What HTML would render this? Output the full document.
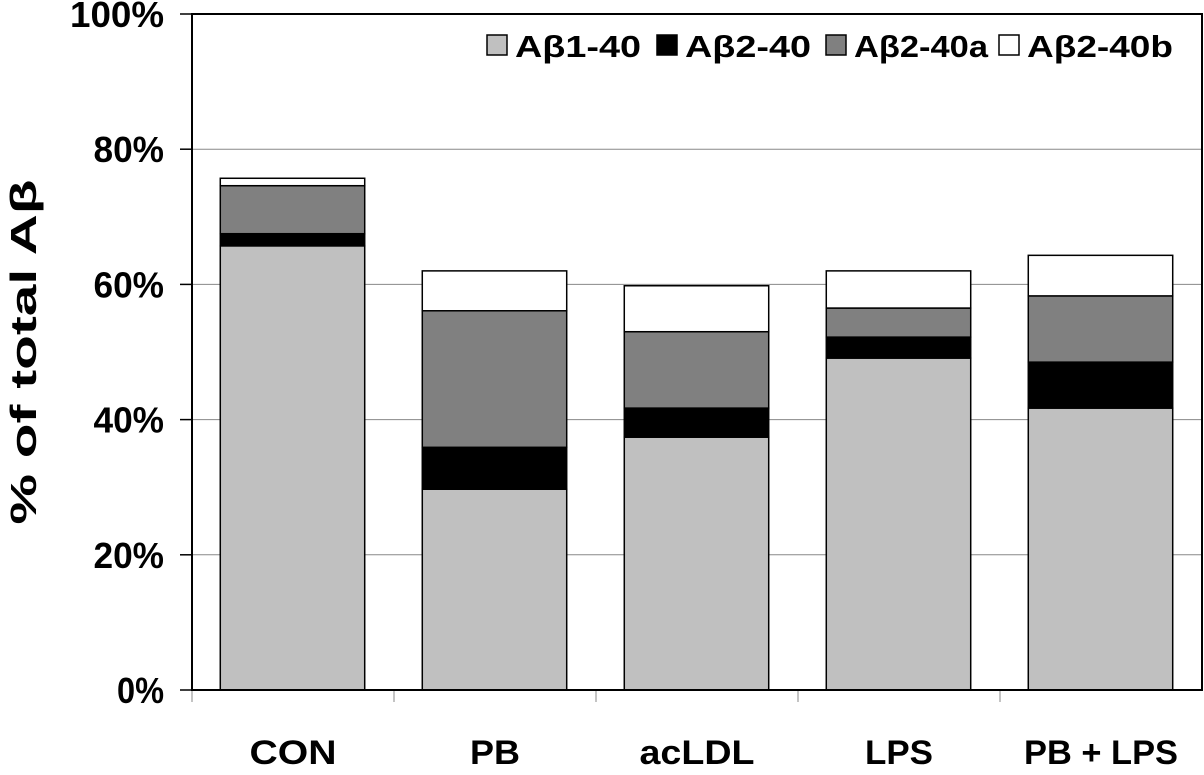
<!DOCTYPE html>
<html><head><meta charset="utf-8"><style>
body{margin:0;background:#fff;}
svg text{font-family:"Liberation Sans",Arial,sans-serif;font-weight:bold;fill:#000;}
</style></head><body>
<svg id="chart" width="1204" height="770">
<g id="grid"></g><g id="bars"></g><g id="axes"></g><g id="legend"></g>
</svg>
<script>
const categories=["CON","PB","acLDL","LPS","PB + LPS"];
const seriesNames=["Aβ1-40","Aβ2-40","Aβ2-40a","Aβ2-40b"];
const s1=[65.7,29.7,37.4,49.1,41.7];
const s2=[1.8,6.2,4.3,3.1,6.8];
const s3=[7.1,20.2,11.3,4.3,9.8];
const s4=[1.1,5.9,6.8,5.5,6.0];
const yTicks=[0,20,40,60,80,100];
const yTickLabels=["0%","20%","40%","60%","80%","100%"];
const series=[s1,s2,s3,s4];
const colors=["#c0c0c0","#000","#808080","#fff"];
const L=192,R=1202,T=14,B=690;
const ns="http://www.w3.org/2000/svg";
function y(v){return B-(v/100)*(B-T);}
const bw=(R-L)/categories.length;
function x(i){return L+bw*i;}
function mk(p,tag,at,txt){const e=document.createElementNS(ns,tag);for(const k in at)e.setAttribute(k,at[k]);if(txt!=null)e.textContent=txt;document.getElementById(p).appendChild(e);return e;}
yTicks.forEach((t,i)=>{
 if(t>0&&t<100){const g=mk("grid","line",{x1:L,x2:R,y1:y(t),y2:y(t),stroke:"#888","stroke-width":1});
 
 }
 const tk=mk("axes","line",{x1:L-12,x2:L,y1:y(t),y2:y(t),stroke:"#000","stroke-width":1.5});
 
 
 const tl=mk("axes","text",{x:164,y:y(t)+13,"text-anchor":"end","font-size":36,textLength:yTickLabels[i].length*23.5,lengthAdjust:"spacingAndGlyphs"},yTickLabels[i]);
 
 
});
const xw=[87,50,115,68,154];
categories.forEach((c,i)=>{
 let acc=0;const bx=x(i)+bw*0.14,w=bw*0.715;
 series.forEach((s,j)=>{
  const r=mk("bars","rect",{x:bx,y:y(acc+s[i]),width:w,height:y(acc)-y(acc+s[i]),fill:colors[j],stroke:"#000","stroke-width":1.5});
  
  
  acc+=s[i];
 });
 const lb=mk("axes","text",{x:x(i)+bw/2,y:764,"text-anchor":"middle","font-size":34,textLength:xw[i],lengthAdjust:"spacingAndGlyphs"},c);
 
 
 const tk=mk("axes","line",{x1:x(i),x2:x(i),y1:B,y2:B+12,stroke:"#888","stroke-width":1});
 
 
});
const frame=mk("axes","rect",{x:L,y:T,width:R-L,height:B-T,fill:"none",stroke:"#000","stroke-width":2});


const yt=mk("axes","text",{x:0,y:0,transform:"translate(36,352) rotate(-90)","text-anchor":"middle","font-size":36,textLength:345,lengthAdjust:"spacingAndGlyphs"},"% of total Aβ");


const lx=[487,657,826,999];
const lw=[126,126,134,146];
seriesNames.forEach((n,j)=>{
 const sq=mk("legend","rect",{x:lx[j],y:35,width:20,height:20,fill:colors[j],stroke:"#000","stroke-width":1.5});
 
 
 const t=mk("legend","text",{x:lx[j]+28,y:57,"font-size":31,textLength:lw[j],lengthAdjust:"spacingAndGlyphs"},n);
 
 
});
</script>
</body></html>
